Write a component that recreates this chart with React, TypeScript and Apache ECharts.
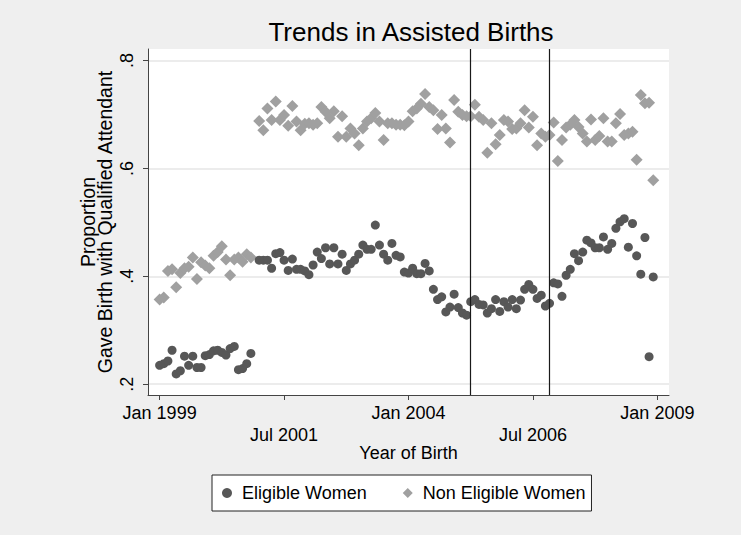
import React, { useEffect, useRef } from "react";
import * as echarts from "echarts";

// Months indexed from Jan 1999 (0) to Dec 2008 (119)
const eligibleValues: (number | null)[] = [
  0.235, 0.238, 0.243, 0.263, 0.219, 0.225, 0.252, 0.235, 0.252, 0.231,
  0.231, 0.253, 0.255, 0.262, 0.263, 0.259, 0.254, 0.266, 0.270, 0.227,
  0.229, 0.238, 0.257, null, 0.430, 0.430, 0.430, 0.415, 0.442, 0.444,
  0.430, 0.411, 0.432, 0.413, 0.413, 0.410, 0.403, 0.421, 0.445, 0.433,
  0.453, 0.423, 0.453, 0.423, 0.441, 0.411, 0.423, 0.430, 0.441, 0.458,
  0.450, 0.450, 0.495, 0.458, 0.441, 0.430, 0.461, 0.439, 0.436, 0.408,
  0.406, 0.415, 0.405, 0.405, 0.424, 0.410, 0.376, 0.357, 0.362, 0.334,
  0.343, 0.367, 0.342, 0.332, 0.328, 0.353, 0.357, 0.348, 0.347, 0.332,
  0.340, 0.357, 0.335, 0.353, 0.343, 0.357, 0.340, 0.356, 0.376, 0.385,
  0.376, 0.359, 0.365, 0.345, 0.350, 0.388, 0.386, 0.363, 0.402, 0.413,
  0.442, 0.429, 0.445, 0.467, 0.462, 0.453, 0.453, 0.473, 0.450, 0.461,
  0.489, 0.501, 0.507, 0.454, 0.498, 0.438, 0.404, 0.472, 0.251, 0.399,
];

const nonEligibleValues: (number | null)[] = [
  0.357, 0.361, 0.410, 0.413, 0.380, 0.406, 0.415, 0.418, 0.435, 0.395,
  0.426, 0.420, 0.415, 0.438, 0.445, 0.456, 0.431, 0.402, 0.431, 0.435,
  0.427, 0.441, 0.435, null, 0.688, 0.671, 0.711, 0.690, 0.724, 0.690,
  0.699, 0.679, 0.716, 0.687, 0.671, 0.683, 0.684, 0.681, 0.684, 0.714,
  0.705, 0.693, 0.706, 0.659, 0.697, 0.659, 0.674, 0.665, 0.643, 0.674,
  0.687, 0.693, 0.703, 0.687, 0.653, 0.684, 0.684, 0.681, 0.681, 0.680,
  0.687, 0.706, 0.711, 0.720, 0.738, 0.714, 0.708, 0.673, 0.699, 0.674,
  0.648, 0.727, 0.705, 0.699, 0.697, 0.697, 0.718, 0.696, 0.690, 0.629,
  0.684, 0.645, 0.662, 0.690, 0.687, 0.673, 0.674, 0.684, 0.708, 0.676,
  0.696, 0.643, 0.665, 0.659, 0.662, 0.685, 0.614, 0.653, 0.676, 0.681,
  0.690, 0.677, 0.665, 0.650, 0.691, 0.653, 0.660, 0.693, 0.650, 0.650,
  0.684, 0.701, 0.662, 0.665, 0.668, 0.616, 0.736, 0.721, 0.722, 0.578,
];

const xTickValues = [0, 30, 60, 90, 120];
const xTickLabels = ["Jan 1999", "Jul 2001", "Jan 2004", "Jul 2006", "Jan 2009"];
const yTickValues = [0.2, 0.4, 0.6, 0.8];
const yTickLabels = [".2", ".4", ".6", ".8"];
const referenceMonths = [75, 94]; // Apr 2005, Nov 2006

const seriesNames = ["Eligible Women", "Non Eligible Women"];

const toPoints = (vals: (number | null)[]) =>
  vals
    .map((v, i) => (v == null ? null : [i, v]))
    .filter((p) => p !== null) as number[][];

const FONT = "'Liberation Sans', Arial, Helvetica, sans-serif";

export default function App() {
  const ref = useRef<HTMLDivElement>(null);

  useEffect(() => {
    document.body.style.margin = "0";
    if (!ref.current) return;
    const chart = echarts.init(ref.current, null, { renderer: "svg" });
    chart.setOption({
      animation: false,
      backgroundColor: "#efefef",
      textStyle: { fontFamily: FONT },
      title: {
        text: "Trends in Assisted Births",
        left: 406,
        textAlign: "center",
        top: 14,
        textStyle: { fontFamily: FONT, fontSize: 26, fontWeight: "normal", color: "#000" },
      },
      grid: {
        left: 148,
        right: 72,
        top: 49,
        bottom: 140,
        show: true,
        backgroundColor: "#ffffff",
        borderWidth: 0,
      },
      legend: {
        left: 212,
        top: 475,
        data: [
          { name: seriesNames[0], icon: "circle" },
          { name: seriesNames[1], icon: "diamond" },
        ],
        formatter: (name: string) => " " + name,
        itemWidth: 10,
        itemHeight: 10,
        itemGap: 36,
        padding: [9, 6, 9, 10],
        backgroundColor: "#ffffff",
        borderColor: "#222",
        borderWidth: 1,
        borderRadius: 0,
        textStyle: { fontFamily: FONT, fontSize: 18, color: "#000" },
      },
      xAxis: {
        type: "value",
        min: -2.8,
        max: 122.8,
        name: "Year of Birth",
        nameLocation: "middle",
        nameGap: 49,
        nameMoveOverlap: false,
        nameTextStyle: { fontFamily: FONT, fontSize: 18, color: "#000" },
        axisLine: { show: true, onZero: false, lineStyle: { color: "#444", width: 1 } },
        axisTick: { show: true, length: 5, lineStyle: { color: "#444" }, customValues: xTickValues },
        splitLine: { show: false },
        axisLabel: {
          customValues: xTickValues,
          margin: 7,
          fontFamily: FONT,
          fontSize: 18,
          color: "#000",
          lineHeight: 22,
          formatter: (v: number) => {
            const i = xTickValues.indexOf(Math.round(v));
            if (i < 0) return "";
            return i % 2 === 1 ? "\n" + xTickLabels[i] : xTickLabels[i];
          },
        },
      },
      yAxis: {
        type: "value",
        min: 0.18,
        max: 0.8215,
        name: "Proportion\nGave Birth with Qualified Attendant",
        nameLocation: "middle",
        nameRotate: 90,
        nameGap: 35,
        nameMoveOverlap: false,
        nameTextStyle: { fontFamily: FONT, fontSize: 19.5, color: "#000", lineHeight: 17 },
        axisLine: { show: true, onZero: false, lineStyle: { color: "#444", width: 1 } },
        axisTick: { show: true, length: 5, lineStyle: { color: "#444" }, customValues: yTickValues },
        splitLine: { show: true, lineStyle: { color: "#e6e6e6", width: 1.5 } },
        axisLabel: {
          customValues: yTickValues,
          rotate: 90,
          margin: 12,
          fontFamily: FONT,
          fontSize: 18,
          color: "#000",
          formatter: (v: number) => {
            const i = yTickValues.findIndex((t) => Math.abs(t - v) < 1e-6);
            return i < 0 ? "" : yTickLabels[i];
          },
        },
      },
      series: [
        {
          name: seriesNames[0],
          type: "scatter",
          symbol: "circle",
          symbolSize: 9,
          itemStyle: { color: "#575757", opacity: 1 },
          data: toPoints(eligibleValues),
          z: 3,
          markLine: {
            silent: true,
            symbol: "none",
            label: { show: false },
            lineStyle: { color: "#1a1a1a", type: "solid", width: 1.2 },
            data: referenceMonths.map((m) => ({ xAxis: m })),
          },
        },
        {
          name: seriesNames[1],
          type: "scatter",
          symbol: "diamond",
          symbolSize: 12,
          itemStyle: { color: "#a0a0a0", opacity: 1 },
          data: toPoints(nonEligibleValues),
          z: 2,
        },
      ],
    });
    return () => chart.dispose();
  }, []);

  return <div ref={ref} style={{ width: 741, height: 535 }} />;
}
